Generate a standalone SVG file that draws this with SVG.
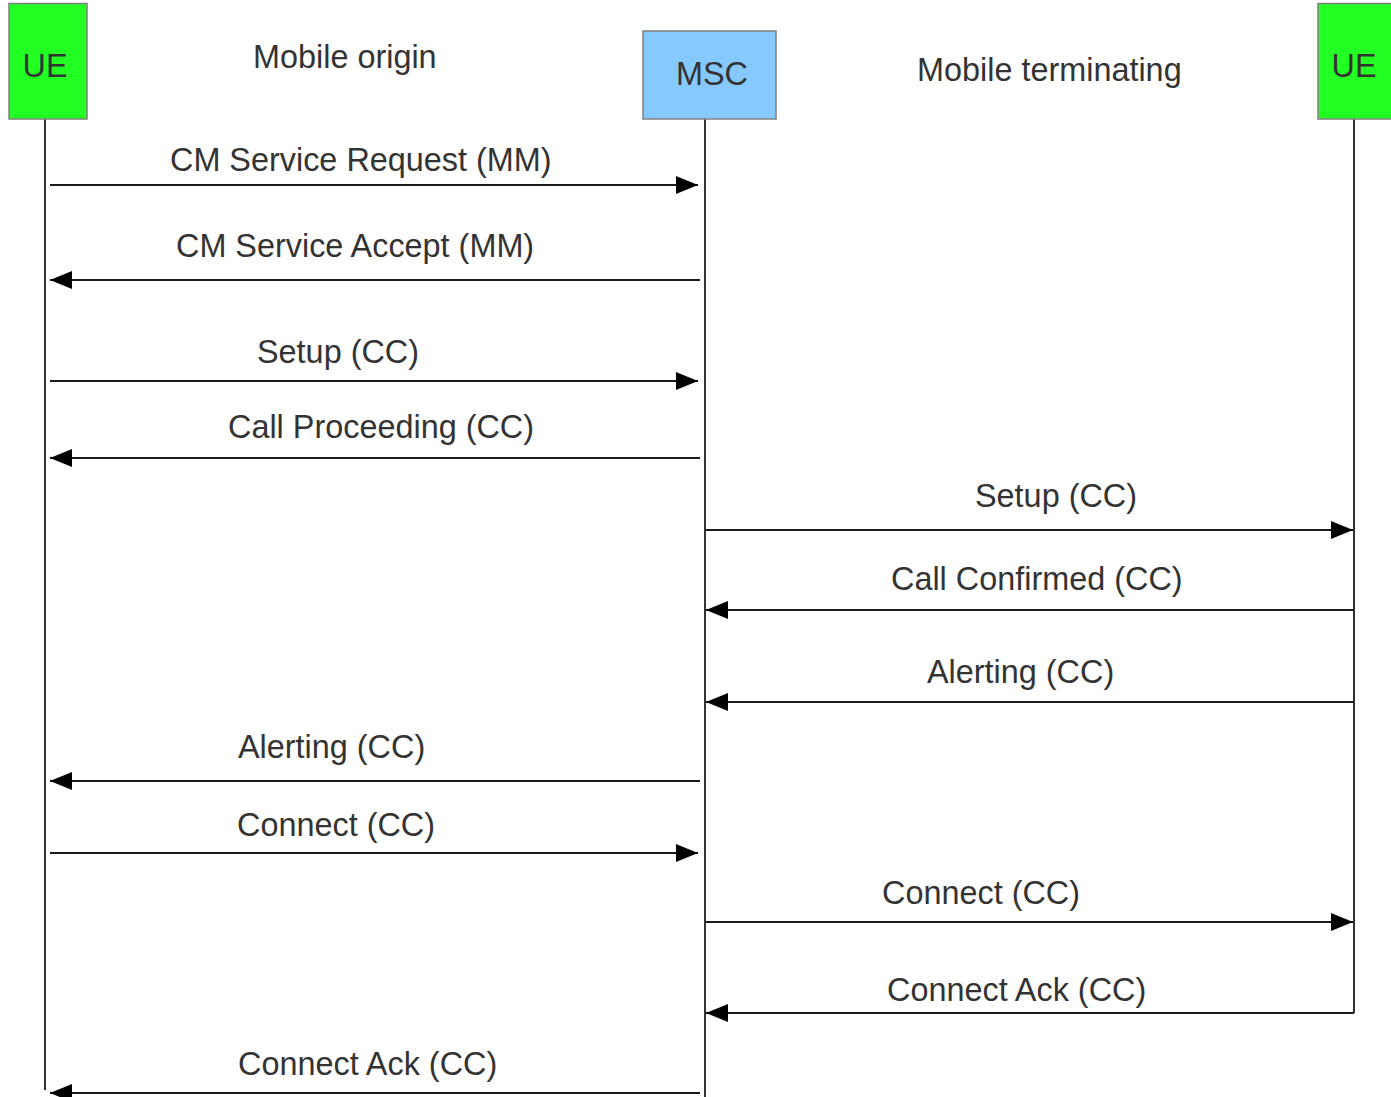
<svg xmlns="http://www.w3.org/2000/svg" width="1391" height="1097" viewBox="0 0 1391 1097">
  <style>
    .lbl { font-family: "Liberation Sans", Arial, sans-serif; font-size: 32.4px; fill: #333333; }
    .ue { fill: #22ff22; stroke: #808080; stroke-width: 1.5; }
    .msc { fill: #85c9ff; stroke: #808080; stroke-width: 1.5; }
    .life { stroke: #333333; stroke-width: 2; fill: none; }
    .msg { stroke: #1a1a1a; stroke-width: 2; fill: none; marker-end: url(#head); }
  </style>
  <defs>
    <marker id="head" markerUnits="userSpaceOnUse" markerWidth="22" markerHeight="18" refX="22" refY="9" orient="auto">
      <path d="M0,0 L22,9 L0,18 z" fill="#000000"/>
    </marker>
  </defs>
  <rect width="1391" height="1097" fill="#ffffff"/>

  <!-- column captions -->
  <text class="lbl" x="253" y="68">Mobile origin</text>
  <text class="lbl" x="917" y="81">Mobile terminating</text>

  <!-- participants and their lifelines -->
  <g id="ue-origin">
    <line class="life" x1="45" y1="119" x2="45" y2="1090"/>
    <rect class="ue" x="9" y="3.5" width="78" height="115.5"/>
    <text class="lbl" x="45" y="77" text-anchor="middle">UE</text>
  </g>
  <g id="msc">
    <line class="life" x1="705" y1="119" x2="705" y2="1097"/>
    <rect class="msc" x="643" y="31" width="133" height="88"/>
    <text class="lbl" x="712" y="85" text-anchor="middle">MSC</text>
  </g>
  <g id="ue-terminating">
    <line class="life" x1="1354" y1="119" x2="1354" y2="1013"/>
    <rect class="ue" x="1318" y="3.5" width="80" height="115.5"/>
    <text class="lbl" x="1354" y="77" text-anchor="middle">UE</text>
  </g>

  <!-- messages -->
  <g id="connectors">
    <line class="msg" x1="50" y1="185" x2="698" y2="185"/>
    <line class="msg" x1="700" y1="280" x2="50" y2="280"/>
    <line class="msg" x1="50" y1="381" x2="698" y2="381"/>
    <line class="msg" x1="700" y1="458" x2="50" y2="458"/>
    <line class="msg" x1="706" y1="530" x2="1353" y2="530"/>
    <line class="msg" x1="1354" y1="610" x2="706" y2="610"/>
    <line class="msg" x1="1354" y1="702" x2="706" y2="702"/>
    <line class="msg" x1="700" y1="781" x2="50" y2="781"/>
    <line class="msg" x1="50" y1="853" x2="698" y2="853"/>
    <line class="msg" x1="706" y1="922" x2="1353" y2="922"/>
    <line class="msg" x1="1354" y1="1013" x2="706" y2="1013"/>
    <line class="msg" x1="700" y1="1093" x2="50" y2="1093"/>
  </g>

  <!-- message labels -->
  <g id="labels">
    <text class="lbl" x="170" y="171">CM Service Request (MM)</text>
    <text class="lbl" x="176" y="257">CM Service Accept (MM)</text>
    <text class="lbl" x="257" y="363">Setup (CC)</text>
    <text class="lbl" x="228" y="438">Call Proceeding (CC)</text>
    <text class="lbl" x="975" y="507">Setup (CC)</text>
    <text class="lbl" x="891" y="590">Call Confirmed (CC)</text>
    <text class="lbl" x="927" y="683">Alerting (CC)</text>
    <text class="lbl" x="238" y="758">Alerting (CC)</text>
    <text class="lbl" x="237" y="836">Connect (CC)</text>
    <text class="lbl" x="882" y="904">Connect (CC)</text>
    <text class="lbl" x="887" y="1001">Connect Ack (CC)</text>
    <text class="lbl" x="238" y="1075">Connect Ack (CC)</text>
  </g>
</svg>
